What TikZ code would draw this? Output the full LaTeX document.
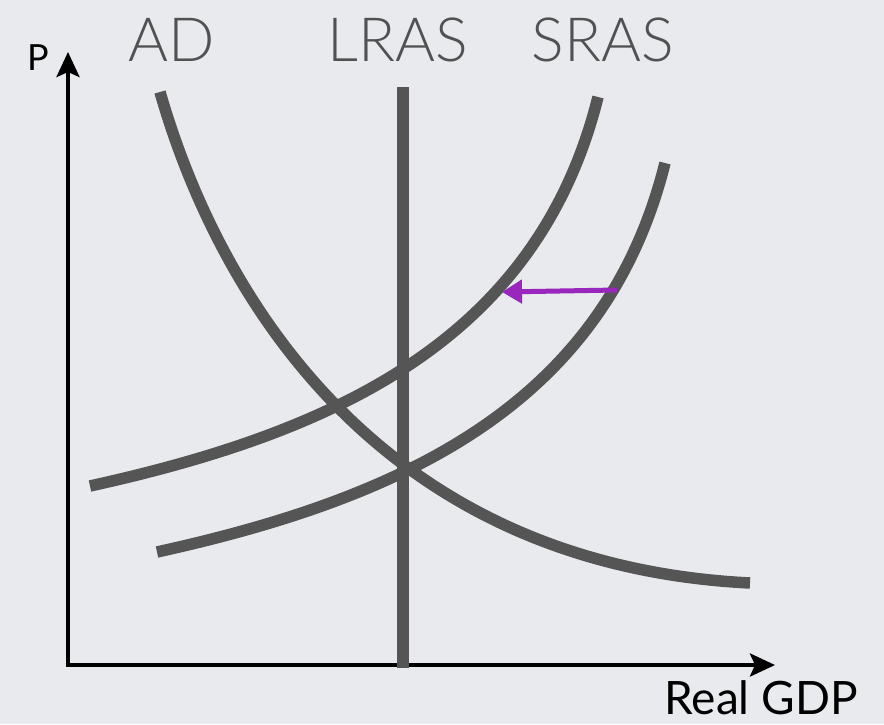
\documentclass[tikz,border=0pt]{standalone}
\usepackage{fontspec}
\setmainfont{Lato}
\newfontfamily\thinlabel{Lato Light}
\usepackage{xcolor}
\usetikzlibrary{arrows.meta,calc}

\definecolor{bggray}{RGB}{233,234,238}
\definecolor{curvegray}{RGB}{85,85,85}
\definecolor{shiftpurple}{RGB}{153,38,189}

\begin{document}
\begin{tikzpicture}[
  x=1pt, y=-1pt,
  curve/.style={draw=curvegray, line width=11.5pt, line cap=butt},
  axis/.style={draw=black, line width=4pt, {Stealth[length=25pt,width=23pt,inset=5pt]}-{Stealth[length=25pt,width=23pt,inset=5pt]}},
  curvelabel/.style={anchor=base, inner sep=0pt, text=curvegray!95!black, font=\thinlabel\fontsize{61}{61}\selectfont},
  axislabel/.style={anchor=base, inner sep=0pt, font=\fontsize{46}{46}\selectfont}
]
\fill[bggray] (0,0) rectangle (884,724);
\useasboundingbox (0,0) rectangle (884,724);

% axes
\coordinate (origin) at (68,665);
\coordinate (ptop) at (68,52);
\coordinate (gdpend) at (775,665);
\draw[axis] (ptop) -- (origin) -- (gdpend);
\node[axislabel, font=\fontsize{36}{36}\selectfont] (plabel) at (38,70) {P};
\node[axislabel] (gdplabel) at (761,714) {Real GDP};

% curves
\draw[curve] (160,92) .. controls (215,284) and (370,564) .. (750,583);
\draw[curve] (403,87) -- (403,668);
\draw[curve] (90,486) .. controls (340,431) and (538,337) .. (598,97);
\draw[curve, shift={(67,66)}] (90,486) .. controls (340,431) and (538,337) .. (598,97);

% labels
\node[curvelabel] (adlabel) at (172,61) {AD};
\node[curvelabel] (lraslabel) at (398,61) {LRAS};
\node[curvelabel] (sraslabel) at (603,61) {SRAS};

% shift of SRAS
\coordinate (shiftfrom) at (617,290);
\coordinate (shiftto) at (502,292);
\draw[draw=shiftpurple, line width=5pt, -{Triangle[length=20pt,width=23pt]}] (shiftfrom) -- (shiftto);
\end{tikzpicture}
\end{document}
